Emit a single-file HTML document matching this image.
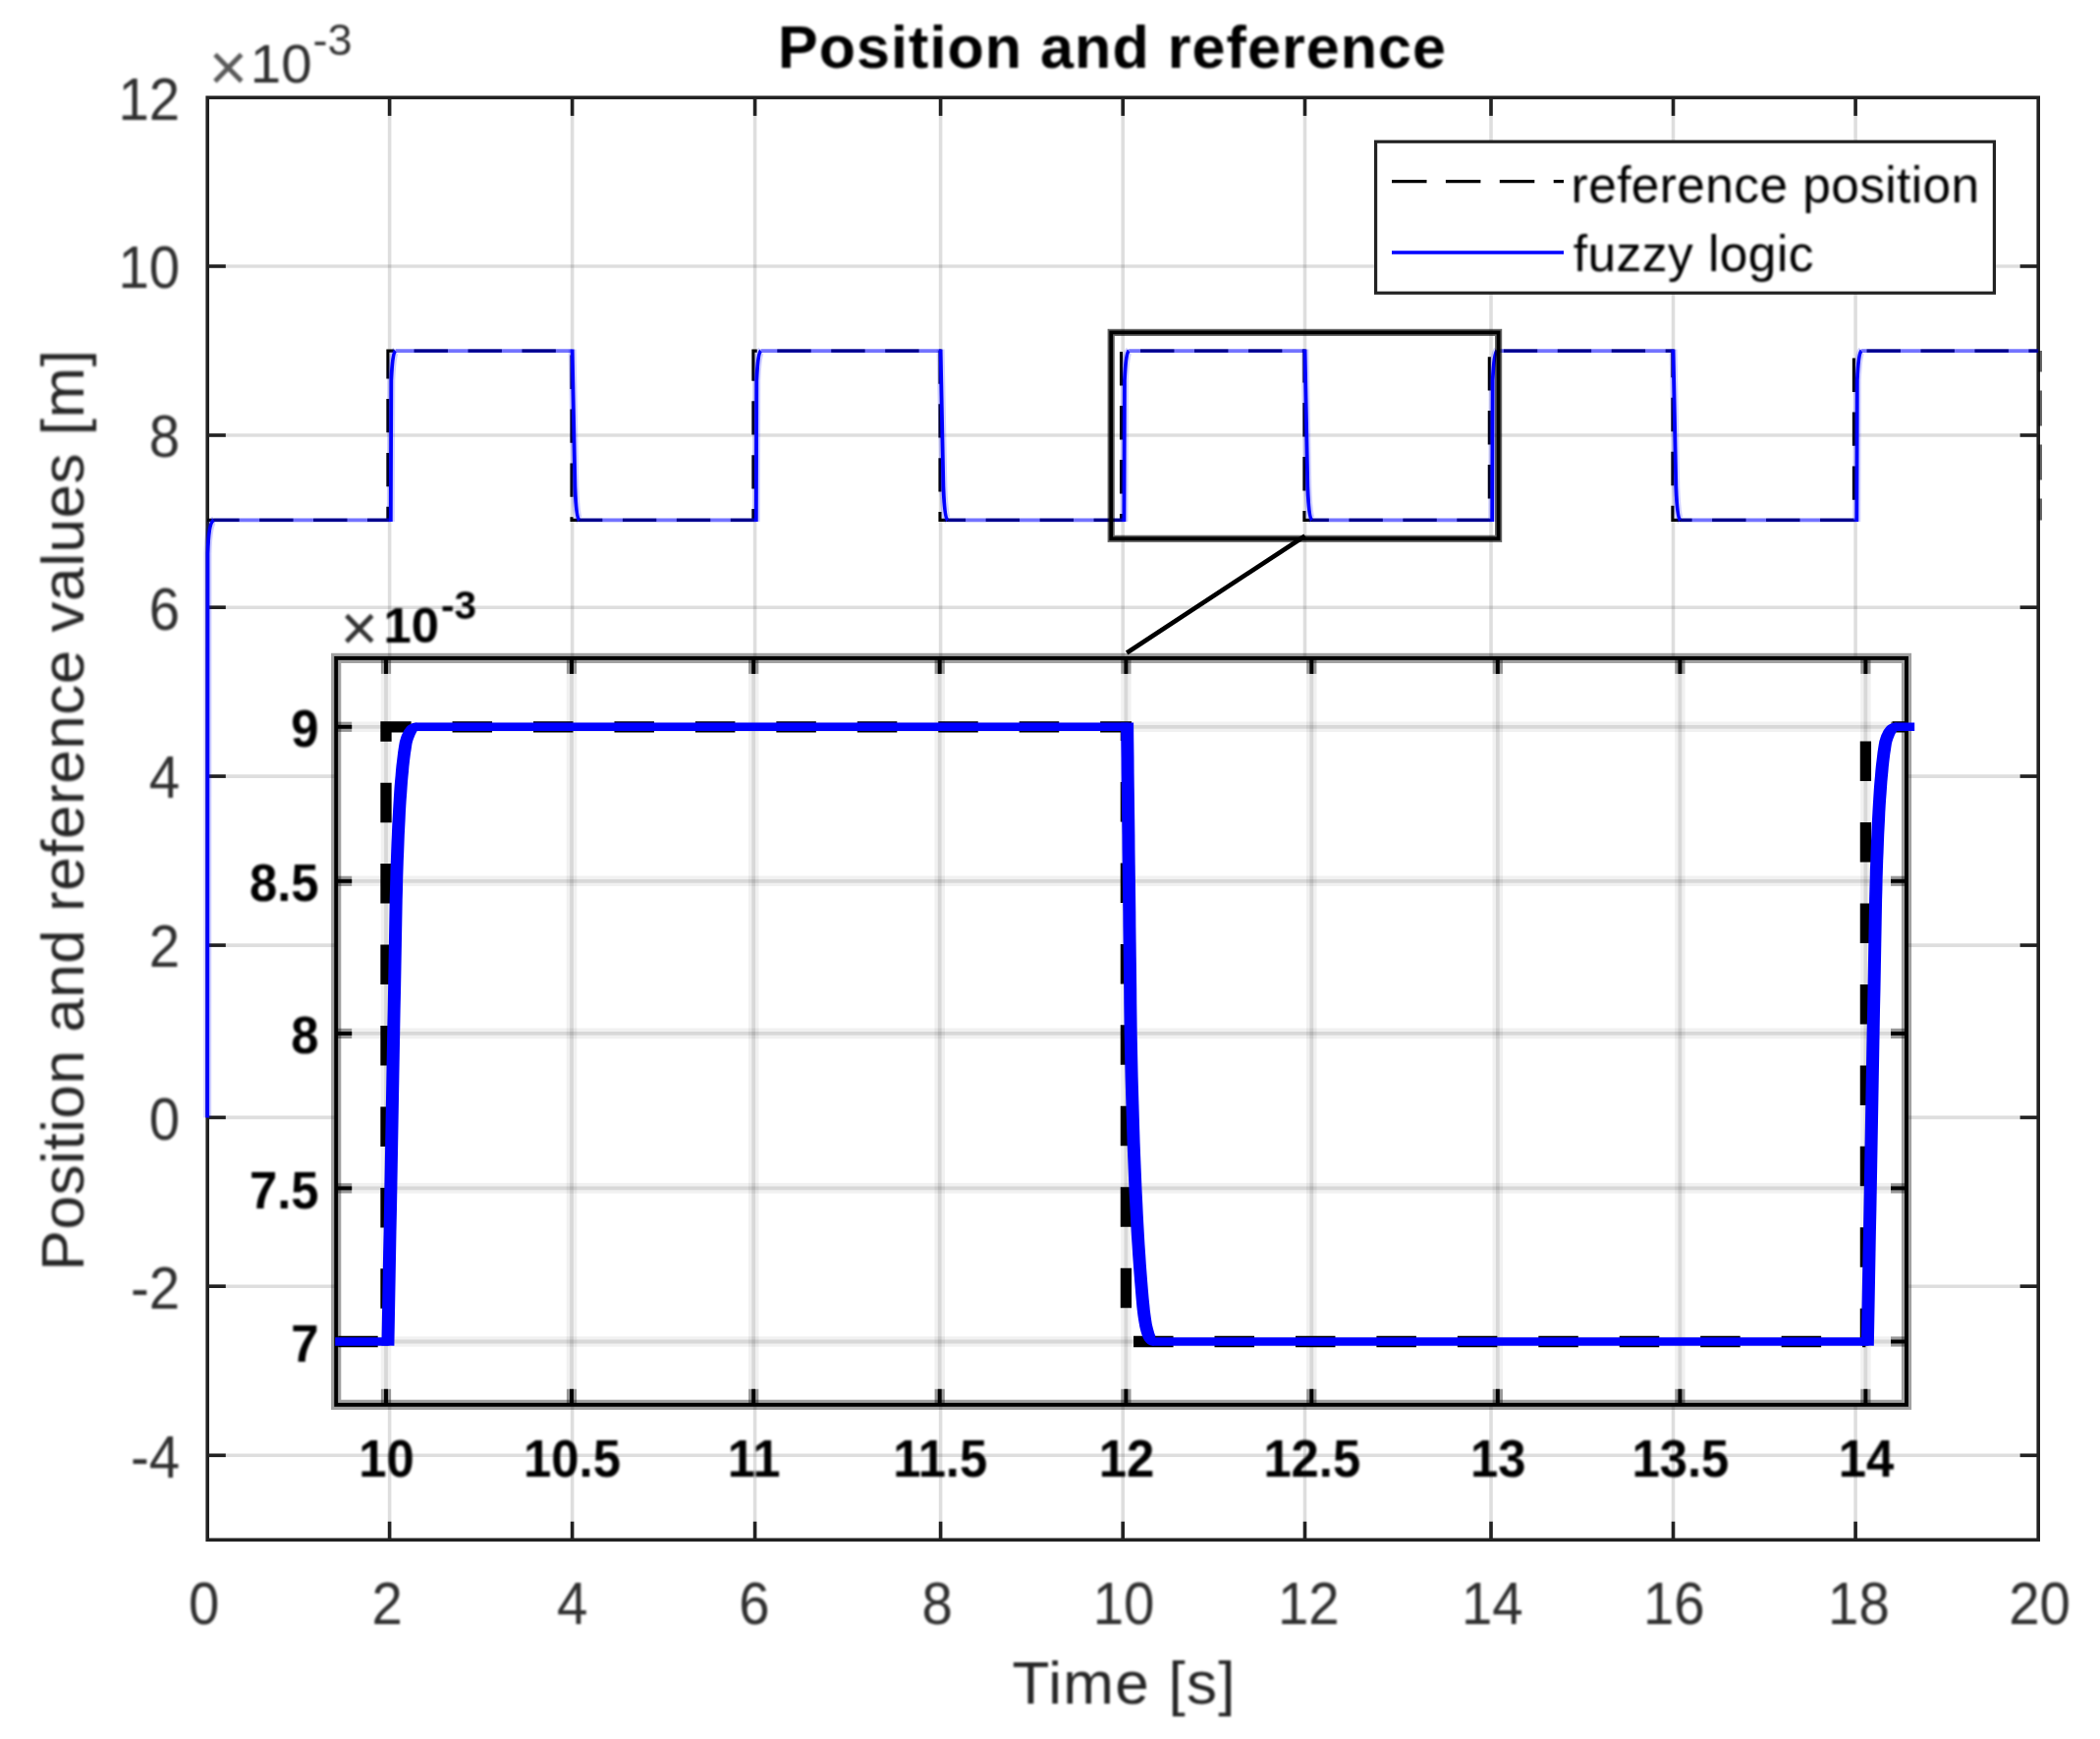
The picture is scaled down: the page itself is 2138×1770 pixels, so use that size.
<!DOCTYPE html>
<html lang="en"><head><meta charset="utf-8"><title>Position and reference</title>
<style>html,body{margin:0;padding:0;background:#fff}body{width:2138px;height:1770px;overflow:hidden}svg{display:block}</style>
</head><body>
<svg width="2138" height="1770" viewBox="0 0 2138 1770" font-family="'Liberation Sans', sans-serif">
<rect width="2138" height="1770" fill="#fff"/>
<defs><filter id="soft" x="0" y="0" width="100%" height="100%" filterUnits="userSpaceOnUse" color-interpolation-filters="sRGB"><feGaussianBlur stdDeviation="0.55"/></filter><filter id="softt" x="0" y="0" width="100%" height="100%" filterUnits="userSpaceOnUse" color-interpolation-filters="sRGB"><feGaussianBlur stdDeviation="0.85"/></filter></defs>
<g id="chart" filter="url(#soft)">
<g stroke="#000" stroke-opacity="0.128" stroke-width="3.6" fill="none">
<line x1="396.6" y1="99.3" x2="396.6" y2="1567.3"/>
<line x1="582.6" y1="99.3" x2="582.6" y2="1567.3"/>
<line x1="768.6" y1="99.3" x2="768.6" y2="1567.3"/>
<line x1="957.6" y1="99.3" x2="957.6" y2="1567.3"/>
<line x1="1143.2" y1="99.3" x2="1143.2" y2="1567.3"/>
<line x1="1328.5" y1="99.3" x2="1328.5" y2="1567.3"/>
<line x1="1518.0" y1="99.3" x2="1518.0" y2="1567.3"/>
<line x1="1703.5" y1="99.3" x2="1703.5" y2="1567.3"/>
<line x1="1889.1" y1="99.3" x2="1889.1" y2="1567.3"/>
<line x1="211.2" y1="271.0" x2="2075.2" y2="271.0"/>
<line x1="211.2" y1="443.0" x2="2075.2" y2="443.0"/>
<line x1="211.2" y1="618.2" x2="2075.2" y2="618.2"/>
<line x1="211.2" y1="790.1" x2="2075.2" y2="790.1"/>
<line x1="211.2" y1="962.1" x2="2075.2" y2="962.1"/>
<line x1="211.2" y1="1137.4" x2="2075.2" y2="1137.4"/>
<line x1="211.2" y1="1309.2" x2="2075.2" y2="1309.2"/>
<line x1="211.2" y1="1481.3" x2="2075.2" y2="1481.3"/>
</g>
<g stroke="#222" stroke-width="3.6" fill="none">
<rect x="211.2" y="99.3" width="1864.0" height="1468.0"/>
<line x1="396.6" y1="1567.3" x2="396.6" y2="1548.7"/>
<line x1="396.6" y1="99.3" x2="396.6" y2="117.9"/>
<line x1="582.6" y1="1567.3" x2="582.6" y2="1548.7"/>
<line x1="582.6" y1="99.3" x2="582.6" y2="117.9"/>
<line x1="768.6" y1="1567.3" x2="768.6" y2="1548.7"/>
<line x1="768.6" y1="99.3" x2="768.6" y2="117.9"/>
<line x1="957.6" y1="1567.3" x2="957.6" y2="1548.7"/>
<line x1="957.6" y1="99.3" x2="957.6" y2="117.9"/>
<line x1="1143.2" y1="1567.3" x2="1143.2" y2="1548.7"/>
<line x1="1143.2" y1="99.3" x2="1143.2" y2="117.9"/>
<line x1="1328.5" y1="1567.3" x2="1328.5" y2="1548.7"/>
<line x1="1328.5" y1="99.3" x2="1328.5" y2="117.9"/>
<line x1="1518.0" y1="1567.3" x2="1518.0" y2="1548.7"/>
<line x1="1518.0" y1="99.3" x2="1518.0" y2="117.9"/>
<line x1="1703.5" y1="1567.3" x2="1703.5" y2="1548.7"/>
<line x1="1703.5" y1="99.3" x2="1703.5" y2="117.9"/>
<line x1="1889.1" y1="1567.3" x2="1889.1" y2="1548.7"/>
<line x1="1889.1" y1="99.3" x2="1889.1" y2="117.9"/>
<line x1="211.2" y1="271.0" x2="229.8" y2="271.0"/>
<line x1="2075.2" y1="271.0" x2="2056.6" y2="271.0"/>
<line x1="211.2" y1="443.0" x2="229.8" y2="443.0"/>
<line x1="2075.2" y1="443.0" x2="2056.6" y2="443.0"/>
<line x1="211.2" y1="618.2" x2="229.8" y2="618.2"/>
<line x1="2075.2" y1="618.2" x2="2056.6" y2="618.2"/>
<line x1="211.2" y1="790.1" x2="229.8" y2="790.1"/>
<line x1="2075.2" y1="790.1" x2="2056.6" y2="790.1"/>
<line x1="211.2" y1="962.1" x2="229.8" y2="962.1"/>
<line x1="2075.2" y1="962.1" x2="2056.6" y2="962.1"/>
<line x1="211.2" y1="1137.4" x2="229.8" y2="1137.4"/>
<line x1="2075.2" y1="1137.4" x2="2056.6" y2="1137.4"/>
<line x1="211.2" y1="1309.2" x2="229.8" y2="1309.2"/>
<line x1="2075.2" y1="1309.2" x2="2056.6" y2="1309.2"/>
<line x1="211.2" y1="1481.3" x2="229.8" y2="1481.3"/>
<line x1="2075.2" y1="1481.3" x2="2056.6" y2="1481.3"/>
</g>
<path d="M211.2,529.4 L394.9,529.4 L394.9,357.1 L582.0,357.1 L582.0,529.4 L766.9,529.4 L766.9,357.1 L957.0,357.1 L957.0,529.4 L1141.5,529.4 L1141.5,357.1 L1327.9,357.1 L1327.9,529.4 L1516.3,529.4 L1516.3,357.1 L1702.9,357.1 L1702.9,529.4 L1887.4,529.4 L1887.4,357.1 L2075.2,357.1" fill="none" stroke="#000" stroke-width="3.1" stroke-dasharray="34.4 20.55" stroke-dashoffset="2"/>
<path d="M2077.2,357.1 L2077.2,529.4" fill="none" stroke="#000" stroke-opacity="0.6" stroke-width="3.6" stroke-dasharray="21.5 19 36 19 36 19 22 100"/>
<path d="M217.7,529.4 L397.8,529.4 M402.6,357.1 L582.6,357.1 M589.8,529.4 L769.8,529.4 M774.6,357.1 L957.6,357.1 M964.8,529.4 L1144.4,529.4 M1149.2,357.1 L1328.5,357.1 M1335.7,529.4 L1519.2,529.4 M1524.0,357.1 L1703.5,357.1 M1710.7,529.4 L1890.3,529.4 M1895.1,357.1 L2075.2,357.1" fill="none" stroke="#0000ff" stroke-opacity="0.55" stroke-width="3.8"/>
<path d="M211.2,1137.4 L211.5,563.4 Q212.4,531.4 217.7,529.4 M397.8,530.9 L398.3,387.1 Q399.6,359.1 402.6,357.1 M582.6,355.6 L585.4,495.4 Q586.6,527.4 589.8,529.4 M769.8,530.9 L770.3,387.1 Q771.6,359.1 774.6,357.1 M957.6,355.6 L960.4,495.4 Q961.6,527.4 964.8,529.4 M1144.4,530.9 L1144.9,387.1 Q1146.2,359.1 1149.2,357.1 M1328.5,355.6 L1331.3,495.4 Q1332.5,527.4 1335.7,529.4 M1519.2,530.9 L1519.7,387.1 Q1521.0,359.1 1524.0,357.1 M1703.5,355.6 L1706.3,495.4 Q1707.5,527.4 1710.7,529.4 M1890.3,530.9 L1890.8,387.1 Q1892.1,359.1 1895.1,357.1" fill="none" stroke="#0000ff" stroke-width="3.8" stroke-linejoin="round"/>
<path d="M211.2,1137.4 L211.5,563.4 Q212.4,531.4 217.7,529.4 M397.8,530.9 L398.3,387.1 Q399.6,359.1 402.6,357.1 M582.6,355.6 L585.4,495.4 Q586.6,527.4 589.8,529.4 M769.8,530.9 L770.3,387.1 Q771.6,359.1 774.6,357.1 M957.6,355.6 L960.4,495.4 Q961.6,527.4 964.8,529.4 M1144.4,530.9 L1144.9,387.1 Q1146.2,359.1 1149.2,357.1 M1328.5,355.6 L1331.3,495.4 Q1332.5,527.4 1335.7,529.4 M1519.2,530.9 L1519.7,387.1 Q1521.0,359.1 1524.0,357.1 M1703.5,355.6 L1706.3,495.4 Q1707.5,527.4 1710.7,529.4 M1890.3,530.9 L1890.8,387.1 Q1892.1,359.1 1895.1,357.1" fill="none" stroke="#0000ff" stroke-opacity="0.18" stroke-width="8" stroke-linejoin="round"/>
<rect x="1400.6" y="144.2" width="629.8" height="154" fill="#fff" stroke="#222" stroke-width="3.2"/>
<line x1="1417" y1="184.6" x2="1592" y2="184.6" stroke="#000" stroke-width="3.4" stroke-dasharray="35.5 19.4"/>
<line x1="1417" y1="257" x2="1592" y2="257" stroke="#0000ff" stroke-width="3.6"/>
<rect x="1131.2" y="338.4" width="394.4" height="209.9" fill="none" stroke="#000" stroke-opacity="0.6" stroke-width="7.2"/>
<rect x="1131.2" y="338.4" width="394.4" height="209.9" fill="none" stroke="#000" stroke-opacity="1.0" stroke-width="3.8"/>
<line x1="1328.6" y1="545.5" x2="1147.2" y2="664.5" stroke="#000" stroke-width="4.6"/>
<rect x="342.2" y="669.9" width="1598.8" height="759.9" fill="#fff"/>
<g stroke="#000" stroke-opacity="0.055" stroke-width="10.6" fill="none">
<line x1="393.0" y1="669.9" x2="393.0" y2="1429.8"/>
<line x1="582.0" y1="669.9" x2="582.0" y2="1429.8"/>
<line x1="767.2" y1="669.9" x2="767.2" y2="1429.8"/>
<line x1="956.7" y1="669.9" x2="956.7" y2="1429.8"/>
<line x1="1146.4" y1="669.9" x2="1146.4" y2="1429.8"/>
<line x1="1335.3" y1="669.9" x2="1335.3" y2="1429.8"/>
<line x1="1524.8" y1="669.9" x2="1524.8" y2="1429.8"/>
<line x1="1710.4" y1="669.9" x2="1710.4" y2="1429.8"/>
<line x1="1899.4" y1="669.9" x2="1899.4" y2="1429.8"/>
<line x1="342.2" y1="1365.5" x2="1941.0" y2="1365.5"/>
<line x1="342.2" y1="1209.4" x2="1941.0" y2="1209.4"/>
<line x1="342.2" y1="1051.9" x2="1941.0" y2="1051.9"/>
<line x1="342.2" y1="896.8" x2="1941.0" y2="896.8"/>
<line x1="342.2" y1="739.8" x2="1941.0" y2="739.8"/>
</g>
<g stroke="#000" stroke-opacity="0.1" stroke-width="3.8" fill="none">
<line x1="393.0" y1="669.9" x2="393.0" y2="1429.8"/>
<line x1="582.0" y1="669.9" x2="582.0" y2="1429.8"/>
<line x1="767.2" y1="669.9" x2="767.2" y2="1429.8"/>
<line x1="956.7" y1="669.9" x2="956.7" y2="1429.8"/>
<line x1="1146.4" y1="669.9" x2="1146.4" y2="1429.8"/>
<line x1="1335.3" y1="669.9" x2="1335.3" y2="1429.8"/>
<line x1="1524.8" y1="669.9" x2="1524.8" y2="1429.8"/>
<line x1="1710.4" y1="669.9" x2="1710.4" y2="1429.8"/>
<line x1="1899.4" y1="669.9" x2="1899.4" y2="1429.8"/>
<line x1="342.2" y1="1365.5" x2="1941.0" y2="1365.5"/>
<line x1="342.2" y1="1209.4" x2="1941.0" y2="1209.4"/>
<line x1="342.2" y1="1051.9" x2="1941.0" y2="1051.9"/>
<line x1="342.2" y1="896.8" x2="1941.0" y2="896.8"/>
<line x1="342.2" y1="739.8" x2="1941.0" y2="739.8"/>
</g>
<g stroke="#000" stroke-opacity="0.37" stroke-width="10.2" fill="none">
<rect x="342.2" y="669.9" width="1598.8" height="759.9"/>
<line x1="393.0" y1="1429.8" x2="393.0" y2="1413.8"/>
<line x1="393.0" y1="669.9" x2="393.0" y2="685.9"/>
<line x1="582.0" y1="1429.8" x2="582.0" y2="1413.8"/>
<line x1="582.0" y1="669.9" x2="582.0" y2="685.9"/>
<line x1="767.2" y1="1429.8" x2="767.2" y2="1413.8"/>
<line x1="767.2" y1="669.9" x2="767.2" y2="685.9"/>
<line x1="956.7" y1="1429.8" x2="956.7" y2="1413.8"/>
<line x1="956.7" y1="669.9" x2="956.7" y2="685.9"/>
<line x1="1146.4" y1="1429.8" x2="1146.4" y2="1413.8"/>
<line x1="1146.4" y1="669.9" x2="1146.4" y2="685.9"/>
<line x1="1335.3" y1="1429.8" x2="1335.3" y2="1413.8"/>
<line x1="1335.3" y1="669.9" x2="1335.3" y2="685.9"/>
<line x1="1524.8" y1="1429.8" x2="1524.8" y2="1413.8"/>
<line x1="1524.8" y1="669.9" x2="1524.8" y2="685.9"/>
<line x1="1710.4" y1="1429.8" x2="1710.4" y2="1413.8"/>
<line x1="1710.4" y1="669.9" x2="1710.4" y2="685.9"/>
<line x1="1899.4" y1="1429.8" x2="1899.4" y2="1413.8"/>
<line x1="1899.4" y1="669.9" x2="1899.4" y2="685.9"/>
<line x1="342.2" y1="1365.5" x2="358.2" y2="1365.5"/>
<line x1="1941.0" y1="1365.5" x2="1925.0" y2="1365.5"/>
<line x1="342.2" y1="1209.4" x2="358.2" y2="1209.4"/>
<line x1="1941.0" y1="1209.4" x2="1925.0" y2="1209.4"/>
<line x1="342.2" y1="1051.9" x2="358.2" y2="1051.9"/>
<line x1="1941.0" y1="1051.9" x2="1925.0" y2="1051.9"/>
<line x1="342.2" y1="896.8" x2="358.2" y2="896.8"/>
<line x1="1941.0" y1="896.8" x2="1925.0" y2="896.8"/>
<line x1="342.2" y1="739.8" x2="358.2" y2="739.8"/>
<line x1="1941.0" y1="739.8" x2="1925.0" y2="739.8"/>
</g>
<g stroke="#000" stroke-opacity="1.0" stroke-width="3.9" fill="none">
<rect x="342.2" y="669.9" width="1598.8" height="759.9"/>
<line x1="393.0" y1="1429.8" x2="393.0" y2="1413.8"/>
<line x1="393.0" y1="669.9" x2="393.0" y2="685.9"/>
<line x1="582.0" y1="1429.8" x2="582.0" y2="1413.8"/>
<line x1="582.0" y1="669.9" x2="582.0" y2="685.9"/>
<line x1="767.2" y1="1429.8" x2="767.2" y2="1413.8"/>
<line x1="767.2" y1="669.9" x2="767.2" y2="685.9"/>
<line x1="956.7" y1="1429.8" x2="956.7" y2="1413.8"/>
<line x1="956.7" y1="669.9" x2="956.7" y2="685.9"/>
<line x1="1146.4" y1="1429.8" x2="1146.4" y2="1413.8"/>
<line x1="1146.4" y1="669.9" x2="1146.4" y2="685.9"/>
<line x1="1335.3" y1="1429.8" x2="1335.3" y2="1413.8"/>
<line x1="1335.3" y1="669.9" x2="1335.3" y2="685.9"/>
<line x1="1524.8" y1="1429.8" x2="1524.8" y2="1413.8"/>
<line x1="1524.8" y1="669.9" x2="1524.8" y2="685.9"/>
<line x1="1710.4" y1="1429.8" x2="1710.4" y2="1413.8"/>
<line x1="1710.4" y1="669.9" x2="1710.4" y2="685.9"/>
<line x1="1899.4" y1="1429.8" x2="1899.4" y2="1413.8"/>
<line x1="1899.4" y1="669.9" x2="1899.4" y2="685.9"/>
<line x1="342.2" y1="1365.5" x2="358.2" y2="1365.5"/>
<line x1="1941.0" y1="1365.5" x2="1925.0" y2="1365.5"/>
<line x1="342.2" y1="1209.4" x2="358.2" y2="1209.4"/>
<line x1="1941.0" y1="1209.4" x2="1925.0" y2="1209.4"/>
<line x1="342.2" y1="1051.9" x2="358.2" y2="1051.9"/>
<line x1="1941.0" y1="1051.9" x2="1925.0" y2="1051.9"/>
<line x1="342.2" y1="896.8" x2="358.2" y2="896.8"/>
<line x1="1941.0" y1="896.8" x2="1925.0" y2="896.8"/>
<line x1="342.2" y1="739.8" x2="358.2" y2="739.8"/>
<line x1="1941.0" y1="739.8" x2="1925.0" y2="739.8"/>
</g>
<path d="M344.2,1365.5 L393.0,1365.5 L393.0,739.8 L1146.4,739.8 L1146.4,1365.5 L1899.4,1365.5" fill="none" stroke="#000" stroke-width="11.3" stroke-dasharray="40.5 41.95"/>
<path d="M1899.4,1365.5 L1899.4,739.8 L1941.0,739.8" fill="none" stroke="#000" stroke-width="11.3" stroke-dasharray="40.5 41.95" stroke-dashoffset="6.75"/>
<path d="M341.2,1365.5 L395.0,1365.5 L395.4,1343.0 L395.8,1320.5 L396.2,1298.0 L396.6,1275.6 L397.1,1253.1 L397.5,1230.6 L397.9,1208.1 L398.3,1185.6 L398.7,1163.1 L399.1,1140.7 L399.5,1118.2 L399.9,1095.7 L400.3,1073.2 L400.7,1050.7 L401.1,1028.2 L401.6,1005.7 L402.0,983.3 L402.4,960.8 L402.8,938.3 L403.2,915.8 L403.5,905.2 L403.8,895.1 L404.0,885.3 L404.4,875.9 L404.7,866.9 L405.0,858.2 L405.3,849.9 L405.7,841.9 L406.1,834.2 L406.5,826.9 L406.9,820.0 L407.3,813.3 L407.7,807.0 L408.1,800.9 L408.6,795.2 L409.0,789.7 L409.5,784.6 L410.0,779.7 L410.5,775.1 L411.0,770.7 L411.5,766.6 L412.1,762.8 L412.6,759.2 L413.2,755.8 L413.8,753.9 L414.3,752.0 L414.9,750.4 L415.5,748.8 L416.2,747.4 L416.9,746.0 L417.6,744.9 L418.3,743.8 L419.1,742.9 L419.8,742.0 L420.6,741.4 L421.4,740.8 L422.3,740.4 L423.2,740.0 L424.1,739.9 L425.0,739.8 L1147.6,739.8 L1147.8,755.4 L1148.0,771.1 L1148.1,786.8 L1148.3,802.4 L1148.5,818.0 L1148.7,833.7 L1148.9,849.3 L1149.0,865.0 L1149.2,880.6 L1149.4,896.3 L1149.6,911.9 L1149.8,927.6 L1149.9,943.2 L1150.1,958.9 L1150.3,974.5 L1150.5,990.2 L1150.7,1005.8 L1150.8,1021.5 L1151.0,1037.2 L1151.2,1052.8 L1151.5,1067.3 L1151.8,1081.7 L1152.1,1095.8 L1152.5,1109.8 L1152.9,1123.5 L1153.3,1137.0 L1153.7,1150.3 L1154.1,1163.3 L1154.6,1176.0 L1155.1,1188.5 L1155.6,1200.7 L1156.1,1212.7 L1156.7,1224.3 L1157.2,1235.6 L1157.8,1246.6 L1158.4,1257.3 L1159.1,1267.7 L1159.7,1277.7 L1160.4,1287.3 L1161.0,1296.6 L1161.7,1305.5 L1162.4,1314.0 L1163.2,1322.1 L1163.9,1329.8 L1164.4,1334.1 L1164.8,1338.2 L1165.4,1341.9 L1165.9,1345.4 L1166.5,1348.6 L1167.2,1351.6 L1167.8,1354.2 L1168.5,1356.6 L1169.3,1358.7 L1170.0,1360.5 L1170.8,1362.0 L1171.7,1363.3 L1172.6,1364.2 L1173.5,1364.9 L1174.4,1365.4 L1175.4,1365.5 L1901.4,1365.5 L1901.8,1343.0 L1902.2,1320.5 L1902.6,1298.0 L1903.0,1275.6 L1903.5,1253.1 L1903.9,1230.6 L1904.3,1208.1 L1904.7,1185.6 L1905.1,1163.1 L1905.5,1140.7 L1905.9,1118.2 L1906.3,1095.7 L1906.7,1073.2 L1907.1,1050.7 L1907.6,1028.2 L1908.0,1005.7 L1908.4,983.3 L1908.8,960.8 L1909.2,938.3 L1909.6,915.8 L1909.9,905.2 L1910.2,895.1 L1910.4,885.3 L1910.8,875.9 L1911.1,866.9 L1911.4,858.2 L1911.7,849.9 L1912.1,841.9 L1912.5,834.2 L1912.9,826.9 L1913.3,820.0 L1913.7,813.3 L1914.1,807.0 L1914.5,800.9 L1915.0,795.2 L1915.4,789.7 L1915.9,784.6 L1916.4,779.7 L1916.9,775.1 L1917.4,770.7 L1917.9,766.6 L1918.5,762.8 L1919.0,759.2 L1919.6,755.8 L1920.2,753.9 L1920.7,752.0 L1921.3,750.4 L1922.0,748.8 L1922.6,747.4 L1923.3,746.0 L1924.0,744.9 L1924.7,743.8 L1925.5,742.9 L1926.2,742.0 L1927.0,741.4 L1927.9,740.8 L1928.7,740.4 L1929.6,740.0 L1930.5,739.9 L1931.4,739.8 L1949.2,739.8" fill="none" stroke="#0000ff" stroke-width="8.4" stroke-linejoin="round"/>
<path d="M401.4,1369.8 L401.9,1343.1 L402.3,1320.6 L402.7,1298.2 L403.1,1275.7 L403.5,1253.2 L404.0,1230.7 L404.4,1208.2 L404.8,1185.7 L405.2,1163.3 L405.6,1140.8 L406.0,1118.3 L406.4,1095.8 L406.8,1073.3 L407.2,1050.8 L407.6,1028.3 L408.1,1005.9 L408.5,983.4 L408.9,960.9 L409.3,938.4 L409.7,915.9 L410.0,905.4 L410.2,895.3 L410.5,885.5 L410.8,876.1 L411.2,867.1 L411.5,858.4 L411.8,850.1 L412.2,842.2 L412.6,834.6 L412.9,827.3 L413.3,820.3 L413.7,813.7 L414.2,807.4 L414.6,801.4 L415.0,795.7 L415.5,790.3 L416.0,785.2 L416.4,780.3 L416.9,775.8 L417.4,771.5 L417.9,767.5 L418.5,763.7 L419.0,760.2 L419.5,757.1 L419.8,755.7 L420.3,754.1 L420.8,752.6 L421.3,751.2 L421.8,750.0 L422.2,749.0 L422.6,748.1 L423.0,747.3 L423.4,746.6 L423.6,746.0 L423.9,745.6 L424.0,745.1 L424.2,744.7 L424.4,744.4 L424.7,744.1 L425.3,744.0 L424.7,735.6 L423.5,735.6 L421.9,735.7 L420.4,736.0 L418.9,736.5 L417.4,737.2 L416.0,738.1 L414.7,739.1 L413.6,740.3 L412.5,741.7 L411.5,743.1 L410.6,744.7 L409.8,746.4 L409.0,748.1 L408.3,750.0 L407.7,752.0 L406.9,754.5 L406.3,758.1 L405.7,761.8 L405.1,765.7 L404.6,769.9 L404.1,774.3 L403.5,779.0 L403.0,783.9 L402.6,789.2 L402.1,794.6 L401.6,800.4 L401.2,806.5 L400.8,812.9 L400.4,819.6 L400.0,826.6 L399.6,833.9 L399.2,841.6 L398.9,849.6 L398.5,857.9 L398.2,866.6 L397.9,875.7 L397.5,885.1 L397.3,894.9 L397.0,905.1 L396.7,915.7 L396.3,938.2 L395.9,960.7 L395.5,983.1 L395.1,1005.6 L394.7,1028.1 L394.2,1050.6 L393.8,1073.1 L393.4,1095.6 L393.0,1118.0 L392.6,1140.5 L392.2,1163.0 L391.8,1185.5 L391.4,1208.0 L391.0,1230.5 L390.6,1253.0 L390.1,1275.4 L389.7,1297.9 L389.3,1320.4 L388.9,1342.9 L388.4,1369.6Z M1141.1,735.7 L1141.3,755.5 L1141.5,771.2 L1141.6,786.8 L1141.8,802.5 L1142.0,818.1 L1142.2,833.8 L1142.4,849.4 L1142.5,865.1 L1142.7,880.7 L1142.9,896.4 L1143.1,912.0 L1143.3,927.7 L1143.4,943.3 L1143.6,959.0 L1143.8,974.6 L1144.0,990.3 L1144.2,1005.9 L1144.3,1021.6 L1144.5,1037.2 L1144.7,1052.9 L1145.0,1067.5 L1145.3,1081.8 L1145.6,1096.0 L1146.0,1109.9 L1146.4,1123.7 L1146.8,1137.2 L1147.2,1150.5 L1147.6,1163.5 L1148.1,1176.3 L1148.6,1188.8 L1149.1,1201.0 L1149.6,1213.0 L1150.2,1224.6 L1150.8,1236.0 L1151.3,1247.0 L1151.9,1257.7 L1152.6,1268.1 L1153.2,1278.1 L1153.9,1287.8 L1154.6,1297.1 L1155.3,1306.0 L1156.0,1314.5 L1156.7,1322.7 L1157.4,1330.4 L1157.9,1334.9 L1158.4,1339.0 L1159.0,1342.9 L1159.6,1346.5 L1160.2,1349.9 L1160.9,1353.0 L1161.7,1355.9 L1162.5,1358.5 L1163.4,1360.9 L1164.4,1363.1 L1165.6,1365.1 L1167.1,1366.8 L1168.8,1368.3 L1170.9,1369.3 L1173.2,1369.7 L1174.8,1369.8 L1176.0,1361.2 L1175.7,1361.0 L1176.1,1360.6 L1176.3,1360.2 L1176.3,1359.7 L1176.0,1358.9 L1175.6,1357.8 L1175.1,1356.4 L1174.6,1354.6 L1174.0,1352.5 L1173.4,1350.1 L1172.8,1347.4 L1172.3,1344.3 L1171.8,1341.0 L1171.3,1337.3 L1170.8,1333.4 L1170.4,1329.2 L1169.6,1321.5 L1168.9,1313.4 L1168.2,1304.9 L1167.5,1296.1 L1166.8,1286.8 L1166.2,1277.2 L1165.5,1267.3 L1164.9,1256.9 L1164.3,1246.3 L1163.7,1235.3 L1163.2,1224.0 L1162.6,1212.4 L1162.1,1200.5 L1161.6,1188.3 L1161.1,1175.8 L1160.6,1163.1 L1160.2,1150.1 L1159.8,1136.8 L1159.4,1123.3 L1159.0,1109.6 L1158.6,1095.7 L1158.3,1081.5 L1158.0,1067.2 L1157.7,1052.7 L1157.5,1037.1 L1157.3,1021.4 L1157.2,1005.8 L1157.0,990.1 L1156.8,974.5 L1156.6,958.8 L1156.4,943.2 L1156.3,927.5 L1156.1,911.9 L1155.9,896.2 L1155.7,880.6 L1155.5,864.9 L1155.4,849.3 L1155.2,833.6 L1155.0,818.0 L1154.8,802.3 L1154.6,786.7 L1154.5,771.0 L1154.3,755.4 L1154.1,735.5Z M1907.8,1369.8 L1908.3,1343.1 L1908.7,1320.6 L1909.1,1298.2 L1909.5,1275.7 L1909.9,1253.2 L1910.4,1230.7 L1910.8,1208.2 L1911.2,1185.7 L1911.6,1163.3 L1912.0,1140.8 L1912.4,1118.3 L1912.8,1095.8 L1913.2,1073.3 L1913.6,1050.8 L1914.0,1028.3 L1914.5,1005.9 L1914.9,983.4 L1915.3,960.9 L1915.7,938.4 L1916.1,915.9 L1916.4,905.4 L1916.6,895.3 L1916.9,885.5 L1917.2,876.1 L1917.6,867.1 L1917.9,858.4 L1918.2,850.1 L1918.6,842.2 L1919.0,834.6 L1919.3,827.3 L1919.7,820.3 L1920.1,813.7 L1920.6,807.4 L1921.0,801.4 L1921.4,795.7 L1921.9,790.3 L1922.4,785.2 L1922.8,780.3 L1923.3,775.8 L1923.8,771.5 L1924.3,767.5 L1924.9,763.7 L1925.4,760.2 L1925.9,757.1 L1926.2,755.7 L1926.7,754.1 L1927.2,752.6 L1927.7,751.2 L1928.2,750.0 L1928.6,749.0 L1929.0,748.1 L1929.4,747.3 L1929.8,746.6 L1930.0,746.0 L1930.3,745.6 L1930.4,745.1 L1930.6,744.7 L1930.8,744.4 L1931.1,744.1 L1931.7,744.0 L1931.1,735.6 L1929.9,735.6 L1928.3,735.7 L1926.8,736.0 L1925.3,736.5 L1923.8,737.2 L1922.4,738.1 L1921.1,739.1 L1920.0,740.3 L1918.9,741.7 L1917.9,743.1 L1917.0,744.7 L1916.2,746.4 L1915.4,748.1 L1914.7,750.0 L1914.1,752.0 L1913.3,754.5 L1912.7,758.1 L1912.1,761.8 L1911.5,765.7 L1911.0,769.9 L1910.5,774.3 L1909.9,779.0 L1909.4,783.9 L1909.0,789.2 L1908.5,794.6 L1908.0,800.4 L1907.6,806.5 L1907.2,812.9 L1906.8,819.6 L1906.4,826.6 L1906.0,833.9 L1905.6,841.6 L1905.3,849.6 L1904.9,857.9 L1904.6,866.6 L1904.3,875.7 L1903.9,885.1 L1903.7,894.9 L1903.4,905.1 L1903.1,915.7 L1902.7,938.2 L1902.3,960.7 L1901.9,983.1 L1901.5,1005.6 L1901.1,1028.1 L1900.6,1050.6 L1900.2,1073.1 L1899.8,1095.6 L1899.4,1118.0 L1899.0,1140.5 L1898.6,1163.0 L1898.2,1185.5 L1897.8,1208.0 L1897.4,1230.5 L1897.0,1253.0 L1896.5,1275.4 L1896.1,1297.9 L1895.7,1320.4 L1895.3,1342.9 L1894.8,1369.6Z" fill="#0000ff" fill-rule="nonzero"/>
</g>
<g id="labels" filter="url(#softt)">
<g fill="#303030" font-size="56.4">
<text transform="translate(207.7,1652.6) scale(1,1.07)" text-anchor="middle">0</text>
<text transform="translate(394.1,1652.6) scale(1,1.07)" text-anchor="middle">2</text>
<text transform="translate(582.8,1652.6) scale(1,1.07)" text-anchor="middle">4</text>
<text transform="translate(767.9,1652.6) scale(1,1.07)" text-anchor="middle">6</text>
<text transform="translate(954.1,1652.6) scale(1,1.07)" text-anchor="middle">8</text>
<text transform="translate(1144.0,1652.6) scale(1,1.07)" text-anchor="middle">10</text>
<text transform="translate(1332.3,1652.6) scale(1,1.07)" text-anchor="middle">12</text>
<text transform="translate(1519.3,1652.6) scale(1,1.07)" text-anchor="middle">14</text>
<text transform="translate(1704.3,1652.6) scale(1,1.07)" text-anchor="middle">16</text>
<text transform="translate(1892.4,1652.6) scale(1,1.07)" text-anchor="middle">18</text>
<text transform="translate(2076.5,1652.6) scale(1,1.07)" text-anchor="middle">20</text>
<text transform="translate(183.2,121.6) scale(1,1.07)" text-anchor="end">12</text>
<text transform="translate(183.2,293.3) scale(1,1.07)" text-anchor="end">10</text>
<text transform="translate(183.2,465.3) scale(1,1.07)" text-anchor="end">8</text>
<text transform="translate(183.2,640.5) scale(1,1.07)" text-anchor="end">6</text>
<text transform="translate(183.2,812.4) scale(1,1.07)" text-anchor="end">4</text>
<text transform="translate(183.2,984.4) scale(1,1.07)" text-anchor="end">2</text>
<text transform="translate(183.2,1159.7) scale(1,1.07)" text-anchor="end">0</text>
<text transform="translate(183.2,1331.5) scale(1,1.07)" text-anchor="end">-2</text>
<text transform="translate(183.2,1503.6) scale(1,1.07)" text-anchor="end">-4</text>
<text x="212.4" y="91.5" font-size="68" fill="#5a5a5a">×</text>
<text x="254.8" y="83.6">10</text>
<text x="318.6" y="55.8" font-size="45">-3</text>
</g>
<text x="1030.4" y="1734" font-size="62" textLength="227" lengthAdjust="spacing" fill="#262626">Time [s]</text>
<text transform="translate(85,1293.5) rotate(-90)" font-size="62" textLength="937.5" lengthAdjust="spacing" fill="#262626">Position and reference values [m]</text>
<text x="792" y="69.4" font-size="61" font-weight="bold" textLength="680" lengthAdjust="spacing" fill="#000">Position and reference</text>
<text x="1599.6" y="206.3" font-size="51.4" textLength="415.6" lengthAdjust="spacing" fill="#000">reference position</text>
<text x="1601.8" y="276" font-size="51.4" textLength="244.7" lengthAdjust="spacing" fill="#000">fuzzy logic</text>
<g fill="#000" font-size="50.8" font-weight="bold">
<text transform="translate(393.5,1503) scale(1,1.04)" text-anchor="middle">10</text>
<text transform="translate(582.5,1503) scale(1,1.04)" text-anchor="middle">10.5</text>
<text transform="translate(767.7,1503) scale(1,1.04)" text-anchor="middle">11</text>
<text transform="translate(957.2,1503) scale(1,1.04)" text-anchor="middle">11.5</text>
<text transform="translate(1146.9,1503) scale(1,1.04)" text-anchor="middle">12</text>
<text transform="translate(1335.8,1503) scale(1,1.04)" text-anchor="middle">12.5</text>
<text transform="translate(1525.3,1503) scale(1,1.04)" text-anchor="middle">13</text>
<text transform="translate(1710.9,1503) scale(1,1.04)" text-anchor="middle">13.5</text>
<text transform="translate(1899.9,1503) scale(1,1.04)" text-anchor="middle">14</text>
<text transform="translate(324.5,1385.8) scale(1,1.04)" text-anchor="end">7</text>
<text transform="translate(324.5,1229.7) scale(1,1.04)" text-anchor="end">7.5</text>
<text transform="translate(324.5,1072.2) scale(1,1.04)" text-anchor="end">8</text>
<text transform="translate(324.5,917.1) scale(1,1.04)" text-anchor="end">8.5</text>
<text transform="translate(324.5,760.1) scale(1,1.04)" text-anchor="end">9</text>
<text x="346.5" y="662" font-weight="normal" font-size="66" fill="#333">×</text>
<text x="390.5" y="654.3">10</text>
<text x="449" y="629.5" font-size="40.6">-3</text>
</g>
</g>
</svg>
</body></html>
